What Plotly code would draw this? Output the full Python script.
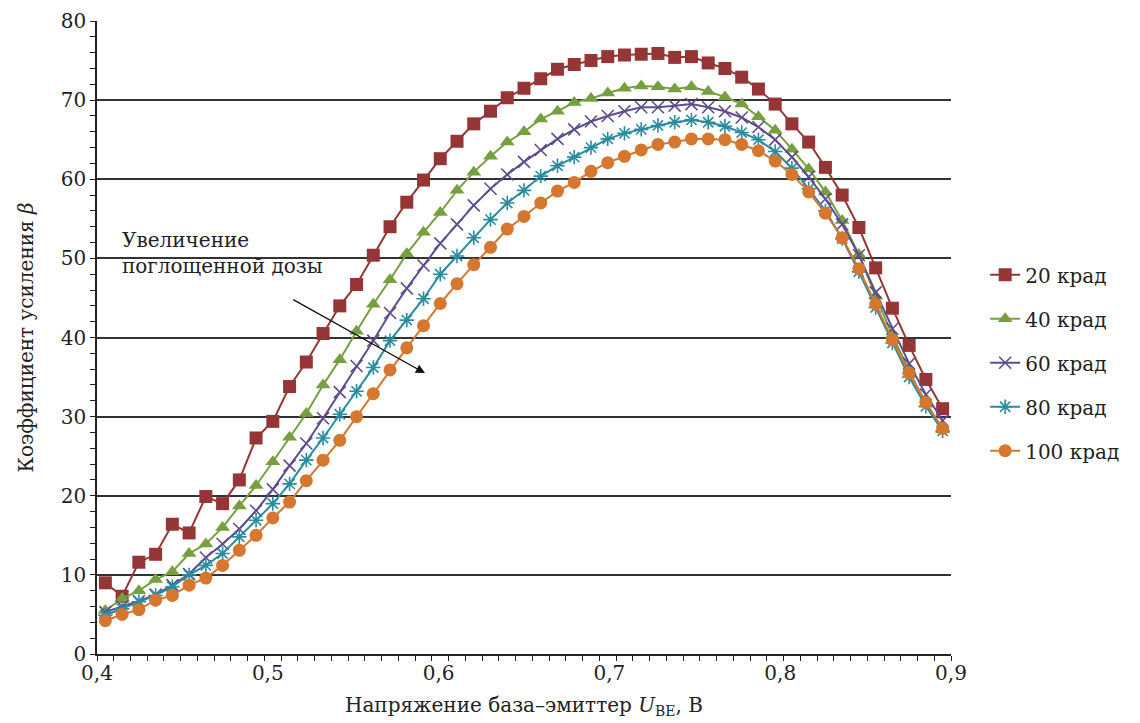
import plotly.graph_objects as go

u_be = [round(0.40 + 0.01 * i, 2) for i in range(51)]

beta_20 = [9.0, 7.3, 11.6, 12.6, 16.4, 15.3, 19.9, 19.0, 22.0, 27.3,
           29.4, 33.8, 36.9, 40.5, 44.0, 46.7, 50.4, 54.0, 57.1, 59.9,
           62.6, 64.8, 67.0, 68.6, 70.3, 71.5, 72.7, 73.9, 74.5, 75.0,
           75.5, 75.7, 75.8, 75.9, 75.4, 75.5, 74.7, 74.0, 72.9, 71.4,
           69.5, 67.0, 64.7, 61.5, 58.0, 53.9, 48.8, 43.7, 39.0, 34.7, 31.0]
beta_40 = [5.5, 7.0, 8.0, 9.4, 10.4, 12.7, 13.9, 16.0, 18.7, 21.3,
           24.3, 27.4, 30.4, 34.0, 37.2, 40.8, 44.2, 47.3, 50.6, 53.3,
           55.8, 58.6, 60.9, 62.9, 64.7, 66.0, 67.6, 68.6, 69.7, 70.2,
           70.9, 71.5, 71.8, 71.7, 71.4, 71.7, 71.1, 70.4, 69.5, 67.9,
           66.2, 63.8, 61.3, 58.4, 54.8, 50.5, 45.2, 40.3, 35.8, 31.6, 28.3]
beta_60 = [5.3, 6.0, 6.7, 7.5, 8.7, 10.1, 12.2, 13.9, 15.8, 18.1,
           20.8, 23.8, 26.6, 29.8, 33.1, 36.4, 39.6, 43.1, 46.2, 49.1,
           51.9, 54.3, 56.7, 58.8, 60.6, 62.2, 63.7, 65.1, 66.3, 67.3,
           68.0, 68.6, 69.1, 69.1, 69.3, 69.5, 69.1, 68.6, 67.8, 66.6,
           65.0, 62.8, 60.3, 57.5, 54.3, 50.4, 45.7, 41.1, 36.7, 32.8, 29.5]
beta_80 = [4.9, 5.7, 6.6, 7.4, 8.5, 10.0, 11.2, 12.7, 14.8, 16.9,
           19.0, 21.5, 24.5, 27.3, 30.3, 33.2, 36.2, 39.6, 42.2, 44.9,
           48.0, 50.3, 52.6, 54.9, 57.0, 58.6, 60.4, 61.7, 62.8, 64.0,
           65.1, 65.8, 66.3, 66.8, 67.2, 67.5, 67.2, 66.7, 65.9, 65.0,
           63.5, 61.4, 58.8, 56.0, 52.5, 48.3, 43.8, 39.3, 35.0, 31.3, 28.2]
beta_100 = [4.2, 5.0, 5.6, 6.8, 7.4, 8.7, 9.6, 11.2, 13.1, 15.0,
            17.2, 19.2, 21.9, 24.5, 27.0, 30.0, 32.9, 35.9, 38.7, 41.5,
            44.3, 46.8, 49.2, 51.4, 53.7, 55.3, 57.0, 58.5, 59.6, 61.0,
            62.1, 62.9, 63.7, 64.4, 64.7, 65.1, 65.1, 65.0, 64.4, 63.6,
            62.3, 60.6, 58.4, 55.7, 52.6, 48.7, 44.2, 39.7, 35.5, 31.8, 28.5]

series_names = ["20 крад", "40 крад", "60 крад", "80 крад", "100 крад"]
series_values = [beta_20, beta_40, beta_60, beta_80, beta_100]
colors = ["#963536", "#76A03F", "#5E4C8F", "#2A8CA0", "#D5772F"]
symbols = ["square", "triangle-up", "x-thin-open", "asterisk-open", "circle"]
sizes = [13, 13, 12, 12, 13]

x_tick_vals = [0.4, 0.5, 0.6, 0.7, 0.8, 0.9]
x_tick_text = ["0,4", "0,5", "0,6", "0,7", "0,8", "0,9"]

FONT = "DejaVu Serif"
FS = 20

fig = go.Figure()
for name, vals, c, s, sz in zip(series_names, series_values, colors, symbols, sizes):
    open_sym = s.endswith("open")
    fig.add_trace(go.Scatter(
        x=u_be, y=vals, name=name, mode="lines+markers",
        xaxis="x2", legendgroup=name,
        line=dict(color=c, width=2),
        marker=dict(symbol=s, size=sz, color=c,
                    line=dict(color=c, width=1.6 if open_sym else 0)),
        cliponaxis=False,
    ))

fig.update_layout(
    width=1140, height=723,
    margin=dict(l=89, r=197, t=13, b=77),
    plot_bgcolor="white", paper_bgcolor="white",
    font=dict(family=FONT, size=FS, color="#222"),
    xaxis=dict(
        range=[0.4, 0.9], tickvals=x_tick_vals, ticktext=x_tick_text,
        ticks="", showgrid=False, zeroline=False, ticklabeloverflow="allow",
        automargin=False,
        showline=True, linecolor="#222", linewidth=1.5,
        minor=dict(ticks="outside", tick0=0.4, dtick=0.5 / 51, ticklen=5,
                   tickcolor="#222", tickwidth=1),
        tickfont=dict(size=FS),
        title=dict(text="Напряжение база–эмиттер <i>U</i><sub>BE</sub>, В",
                   font=dict(size=FS), standoff=14),
    ),
    xaxis2=dict(range=[0.395, 0.905], overlaying="x", visible=False),
    yaxis=dict(
        range=[0, 80], dtick=10, ticks="outside", ticklen=5, tickcolor="#222",
        showgrid=True, gridcolor="#333", gridwidth=1.5, zeroline=False,
        ticklabeloverflow="allow", automargin=False,
        showline=True, linecolor="#222", linewidth=1.5,
        minor=dict(ticks="outside", dtick=2, ticklen=5, tickcolor="#222"),
        tickfont=dict(size=FS),
        title=dict(text="Коэффициент усиления <i>β</i>", font=dict(size=FS), standoff=22),
    ),
    legend=dict(x=1.04, y=0.63, xanchor="left", yanchor="top",
                font=dict(size=FS), tracegroupgap=15, bgcolor="rgba(0,0,0,0)"),
    annotations=[
        dict(text="Увеличение<br>поглощенной дозы", xref="paper", yref="paper",
             x=0.027, y=0.634, xanchor="left", yanchor="middle", align="left",
             showarrow=False, font=dict(size=FS)),
        dict(text="", x=0.592, y=35.5, xref="x", yref="y",
             ax=0.514, ay=44.9, axref="x", ayref="y",
             showarrow=True, arrowhead=2, arrowsize=1.4, arrowwidth=1.3,
             arrowcolor="#111"),
    ],
)

fig.write_html("out.html")
